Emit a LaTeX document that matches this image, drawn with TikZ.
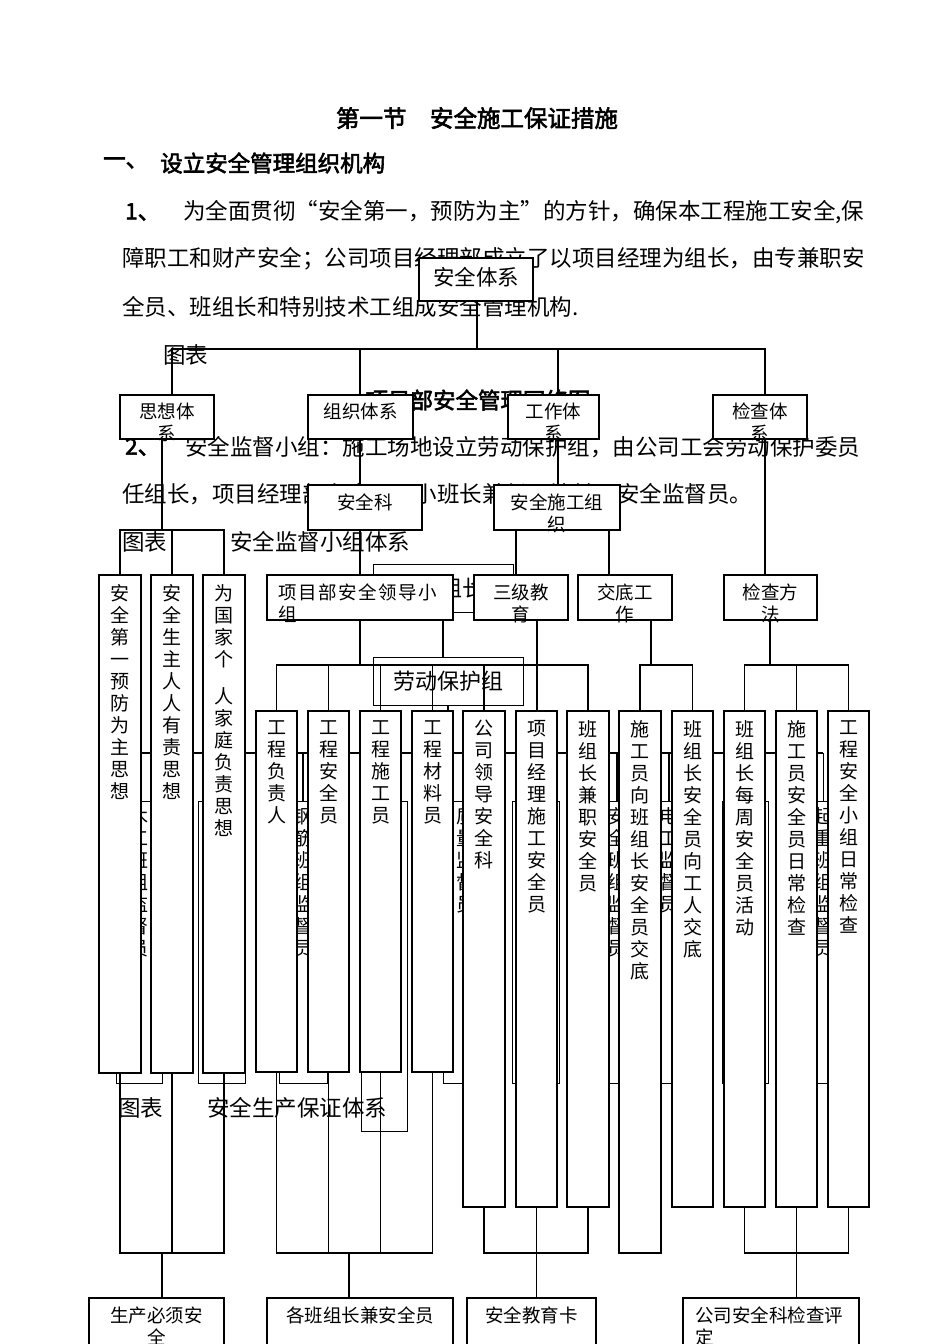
\documentclass[tikz,border=0pt]{standalone}
\usepackage{fontspec}
\setmainfont{Noto Sans CJK SC}
\newfontfamily\bcjk{Noto Sans CJK SC}[FakeBold=2.5]
\ExplSyntaxOn
\NewDocumentCommand\vtext{m}{\tl_map_inline:nn{#1}{##1\\}}
\ExplSyntaxOff
\tikzset{
 ln/.style={line width=1.1pt, black},
 bx/.style={draw, line width=1.1pt, fill=white, inner sep=0pt},
 hbx/.style={draw, line width=1pt, inner sep=0pt},
 t/.style={inner sep=0pt, anchor=north, align=center, font=\fontsize{18.5}{22}\selectfont},
 vt/.style={inner sep=0pt, anchor=north, align=center, font=\fontsize{19}{22}\selectfont},
 p/.style={inner sep=0pt, anchor=west, font=\fontsize{22.5}{27}\selectfont},
}
\newcommand\bx[6][bx]{\node[#1, minimum width={(#4-#3)*1pt}, minimum height={(#6-#5)*1pt}] (#2) at ({(#3+#4)/2},{(#5+#6)/2}) {};}
\begin{document}
\begin{tikzpicture}[x=1pt,y=-1pt]
\fill[white] (0,0) rectangle (950,1344);
\useasboundingbox (0,0) rectangle (950,1344);
\clip (0,0) rectangle (950,1344);

% ---------- background text ----------
\node[p, anchor=center, font=\fontsize{23.5}{28}\selectfont\bcjk] (title) at (477,118) {第一节\hspace{1em}安全施工保证措施};
\node[p, font=\fontsize{22.5}{27}\selectfont\bcjk] (h1a) at (103,163) {一、};
\node[p, font=\fontsize{22.5}{27}\selectfont\bcjk] (h1b) at (160,163) {设立安全管理组织机构};
\node[p, font=\fontsize{22.5}{27}\selectfont\bcjk] (n1) at (125,212) {1、};
\node[p] (l1) at (183,212) {为全面贯彻“安全第一，预防为主"的方针，确保本工程施工安全,保};
\node[p] (l2) at (122,259) {障职工和财产安全；公司项目经理部成立了以项目经理为组长，由专兼职安};
\node[p] (l3) at (122,307) {全员、班组长和特别技术工组成安全管理机构.};
\node[p] (tb1) at (163,355) {图表};
\node[p, anchor=center, font=\fontsize{22.5}{27}\selectfont\bcjk] (cap1) at (478,400) {项目部安全管理网络图};
\node[p, font=\fontsize{22.5}{27}\selectfont\bcjk] (n2) at (125,447) {2、};
\node[p] (l4) at (185,447) {安全监督小组：施工场地设立劳动保护组，由公司工会劳动保护委员};
\node[p] (l5) at (122,494) {任组长，项目经理部安全员、小班长兼任工地兼职安全监督员。};
\node[p] (tb2) at (122,542) {图表};
\node[p] (cap2) at (230,542) {安全监督小组体系};
\node[p] (tb3) at (118,1108) {图表};
\node[p] (cap3) at (207,1108) {安全生产保证体系};

% ---------- hidden second diagram ----------
\bx[hbx]{zz2}{373}{513}{564}{612}
\node[p, anchor=center, font=\fontsize{22}{26}\selectfont] (zz2t) at (462,588) {组长};
\draw[ln] (443,612) -- (443,657);
\draw[ln] (448,705) -- (448,753);
\draw[ln] (139,753) -- (823,753);
\foreach \a/\b/\c in {116/162/1083,198/245/1083,279/327/1083,361/407/1131,443/490/1083,512/559/1083,594/640/1083,646/692/1083,722/768/1083,800/847/1083}{
  \draw[ln] ({(\a+\b)/2},753) -- ({(\a+\b)/2},801);
  \draw[line width=1pt] (\a,801) rectangle (\b,\c);
}
\node[vt] (h1) at (139,807) {\vtext{木工班组监督员}};
\node[vt] (h2) at (303,807) {\vtext{钢筋班组监督员}};
\node[vt] (h3) at (466,807) {\vtext{质量监督员}};
\node[vt] (h4) at (617,807) {\vtext{安全班组监督员}};
\node[vt] (h5) at (669,807) {\vtext{电工监督员}};
\node[vt] (h6) at (823,807) {\vtext{起重班组监督员}};

% ---------- main connectors ----------
\draw[ln] (477,301) -- (477,349);
\draw[ln] (172,395) -- (172,349) -- (765,349) -- (765,395);
\draw[ln] (360,349) -- (360,395);
\draw[ln] (558,349) -- (558,395);
\draw[ln] (162,439) -- (162,530);
\draw[ln] (120,575) -- (120,530) -- (224,530) -- (224,575);
\draw[ln] (172,530) -- (172,575);
\draw[ln] (360,439) -- (360,485);
\draw[ln] (360,530) -- (360,575);
\draw[ln] (558,439) -- (558,485);
\draw[ln] (516,530) -- (516,575);
\draw[ln] (609,530) -- (609,575);
\draw[ln] (765,439) -- (765,575);
\draw[ln] (360,620) -- (360,665);
\draw[ln] (276.5,711) -- (276.5,665) -- (588,665) -- (588,711);
\foreach \x in {328.5,380.5,432.5,484}{\draw[ln] (\x,665) -- (\x,711);}
\draw[ln] (537,620) -- (537,711);
\draw[ln] (651,620) -- (651,665);
\draw[ln] (640,711) -- (640,665) -- (692.5,665) -- (692.5,711);
\draw[ln] (770,620) -- (770,665);
\draw[ln] (744.5,711) -- (744.5,665) -- (848.5,665) -- (848.5,711);
\draw[ln] (796.5,665) -- (796.5,711);
% bottom
\draw[ln] (120,1073) -- (120,1253) -- (224,1253) -- (224,1073);
\draw[ln] (172,1073) -- (172,1253);
\draw[ln] (162,1253) -- (162,1298);
\draw[ln] (276.5,1072) -- (276.5,1253) -- (432.5,1253) -- (432.5,1072);
\draw[ln] (328.5,1072) -- (328.5,1253);
\draw[ln] (380.5,1072) -- (380.5,1253);
\draw[ln] (349,1253) -- (349,1298);
\draw[ln] (484,1207) -- (484,1253) -- (588,1253) -- (588,1207);
\draw[ln] (536.5,1207) -- (536.5,1298);
\draw[ln] (744.5,1207) -- (744.5,1253) -- (848.5,1253) -- (848.5,1207);
\draw[ln] (796.5,1207) -- (796.5,1298);

% ---------- main boxes ----------
\bx{aq}{419}{533}{258}{301}
\node[t, font=\fontsize{21.5}{26}\selectfont] (aqt) at (476,267) {安全体系};
\bx{sx}{120}{214}{395}{439}
\node[t] (sxt) at (167,403) {思想体\\系};
\bx{zz}{308}{413}{395}{439}
\node[t] (zzt) at (360.5,403) {组织体系};
\bx{gz}{508}{599}{395}{439}
\node[t] (gzt) at (553.5,403) {工作体\\系};
\bx{jc}{713}{807}{395}{439}
\node[t] (jct) at (760,403) {检查体\\系};
\bx{aqk}{308}{422}{485}{530}
\node[t] (aqkt) at (365,494) {安全科};
\bx{sgzz}{494}{620}{485}{530}
\node[t] (sgzzt) at (557,494) {安全施工组\\织};
\bx{xmb}{267}{453}{575}{620}
\node[t, anchor=north west, align=left] (xmbt) at (278,584) {\addfontfeature{LetterSpace=8}项目部安全领导小\\组};
\bx{sjjy}{474}{568}{575}{620}
\node[t] (sjjyt) at (521,584) {三级教\\育};
\bx{jdgz}{578}{672}{575}{620}
\node[t] (jdgzt) at (625,584) {交底工\\作};
\bx{jcff}{724}{817}{575}{620}
\node[t] (jcfft) at (770.5,584) {检查方\\法};

% tall boxes row A
\bx{a1}{99}{141}{575}{1073}
\node[vt] (a1t) at (120,584) {\vtext{安全第一预防为主思想}};
\bx{a2}{151}{193}{575}{1073}
\node[vt] (a2t) at (172,584) {\vtext{安全生主人人有责思想}};
\bx{a3}{203}{245}{575}{1073}
\node[vt] (a3t) at (224,584) {为\\国\\家\\个\\[15pt]人\\家\\庭\\负\\责\\思\\想};

% tall boxes row B
\bx{b1}{256}{297}{711}{1072}
\node[vt] (b1t) at (276.5,720) {\vtext{工程负责人}};
\bx{b2}{308}{349}{711}{1072}
\node[vt] (b2t) at (328.5,720) {\vtext{工程安全员}};
\bx{b3}{360}{401}{711}{1072}
\node[vt] (b3t) at (380.5,720) {\vtext{工程施工员}};
\bx{b4}{412}{453}{711}{1072}
\node[vt] (b4t) at (432.5,720) {\vtext{工程材料员}};
\bx{b5}{463}{505}{711}{1207}
\node[vt] (b5t) at (484,720) {\vtext{公司领导安全科}};
\bx{b6}{516}{557}{711}{1207}
\node[vt] (b6t) at (536.5,720) {\vtext{项目经理施工安全员}};
\bx{b7}{567}{609}{711}{1207}
\node[vt] (b7t) at (588,720) {\vtext{班组长兼职安全员}};
\bx{b8}{619}{661}{711}{1253}
\node[vt] (b8t) at (640,720) {\vtext{施工员向班组长安全员交底}};
\bx{b9}{672}{713}{711}{1207}
\node[vt] (b9t) at (692.5,720) {\vtext{班组长安全员向工人交底}};
\bx{b10}{724}{765}{711}{1207}
\node[vt] (b10t) at (744.5,720) {\vtext{班组长每周安全员活动}};
\bx{b11}{776}{817}{711}{1207}
\node[vt] (b11t) at (796.5,720) {\vtext{施工员安全员日常检查}};
\bx{b12}{828}{869}{711}{1207}
\node[vt] (b12t) at (848.5,720) {\vtext{工程安全小组日常检查}};

% bottom boxes
\bx{c1}{89}{224}{1298}{1360}
\node[t] (c1t) at (156.5,1307) {生产必须安\\全};
\bx{c2}{267}{453}{1298}{1360}
\node[t] (c2t) at (360,1307) {各班组长兼安全员};
\bx{c3}{467}{596}{1298}{1360}
\node[t] (c3t) at (531.5,1307) {安全教育卡};
\bx{c4}{683}{859}{1298}{1360}
\node[t, anchor=north west, align=left] (c4t) at (695,1307) {公司安全科检查评\\定};

% labour protection group (transparent box)
\bx[hbx]{lbz}{373}{523}{657}{705}
\node[p, anchor=center, font=\fontsize{22}{26}\selectfont] (lbzt) at (448,681) {劳动保护组};
\end{tikzpicture}
\end{document}
